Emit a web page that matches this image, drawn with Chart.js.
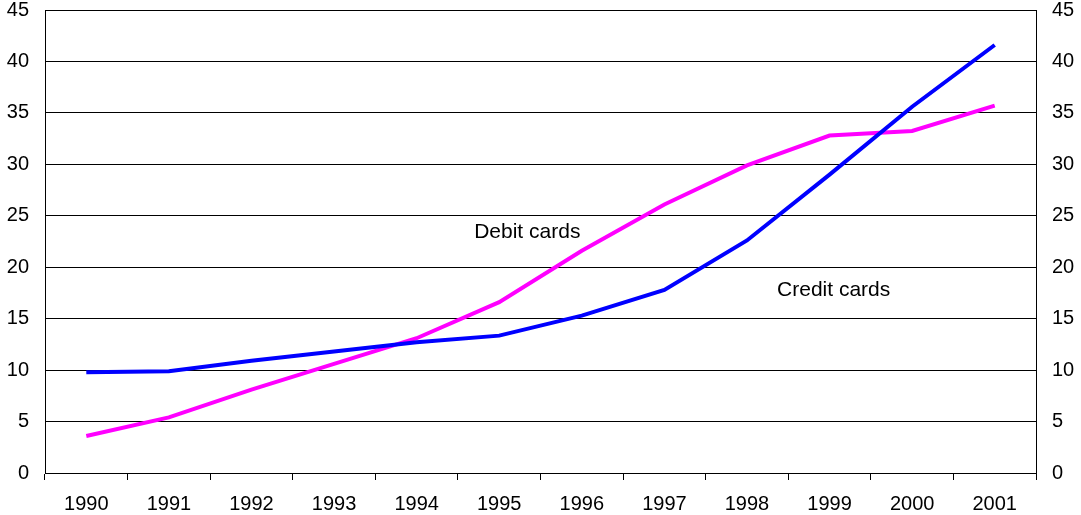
<!DOCTYPE html>
<html>
<head>
<meta charset="utf-8">
<script src="https://cdn.jsdelivr.net/npm/chart.js@4"></script>
<style>
html,body{margin:0;padding:0;background:#fff;}
#wrap{position:relative;width:1081px;height:515px;}
</style>
</head>
<body>
<div id="wrap"><canvas id="c" width="1081" height="515"></canvas></div>
<script>
const years = ['1990','1991','1992','1993','1994','1995','1996','1997','1998','1999','2000','2001'];
const creditCards = [9.8, 9.9, 10.9, 11.8, 12.7, 13.35, 15.3, 17.8, 22.6, 29.0, 35.6, 41.6];
const debitCards  = [3.6, 5.4, 8.1, 10.6, 13.1, 16.6, 21.6, 26.1, 29.9, 32.8, 33.25, 35.7];
const yTicks = [0,5,10,15,20,25,30,35,40,45];
const seriesLabels = [
  {text:'Debit cards', x:5.34, y:23.4},
  {text:'Credit cards', x:9.05, y:17.8}
];

const FONT = "'Liberation Sans', Arial, sans-serif";

const labelPlugin = {
  id:'seriesLabels',
  afterDatasetsDraw(chart){
    const ctx = chart.ctx;
    const xs = chart.scales.x, ys = chart.scales.y;
    ctx.save();
    ctx.font = "21px " + FONT;
    ctx.fillStyle = '#000';
    ctx.textAlign = 'center';
    ctx.textBaseline = 'middle';
    seriesLabels.forEach(l=>{
      const x0 = xs.getPixelForValue(Math.floor(l.x));
      const x1 = xs.getPixelForValue(Math.floor(l.x)+1);
      const px = x0 + (x1-x0)*(l.x-Math.floor(l.x));
      ctx.fillText(l.text, px, ys.getPixelForValue(l.y));
    });
    ctx.restore();
  }
};

function noPad(s){ s.paddingTop = 0; s.paddingBottom = 0; s.paddingLeft = 0; s.paddingRight = 0; }

new Chart(document.getElementById('c'), {
  type:'line',
  data:{
    labels: years,
    datasets:[
      {label:'Credit cards', data: creditCards, borderColor:'#0000FF', borderWidth:4, pointRadius:0, tension:0, fill:false, yAxisID:'y'},
      {label:'Debit cards', data: debitCards, borderColor:'#FF00FF', borderWidth:4, pointRadius:0, tension:0, fill:false, yAxisID:'y'}
    ]
  },
  options:{
    responsive:false,
    animation:false,
    layout:{padding:{top:10,left:0,right:0,bottom:0}},
    plugins:{legend:{display:false}, tooltip:{enabled:false}},
    scales:{
      x:{
        offset:true,
        grid:{offset:true, drawOnChartArea:false, color:'#000', tickLength:7, lineWidth:1},
        border:{color:'#000', width:1},
        ticks:{font:{family:FONT, size:20}, color:'#000', padding:12, maxRotation:0, autoSkip:false},
        afterFit(s){ s.height = 42; noPad(s); }
      },
      y:{
        position:'left',
        min:0, max:45,
        afterBuildTicks(s){ s.ticks = yTicks.map(v=>({value:v})); },
        grid:{color:'#000', lineWidth:1, drawTicks:false},
        border:{color:'#000', width:1},
        ticks:{font:{family:FONT, size:20}, color:'#000', padding:16},
        afterFit(s){ s.width = 45; noPad(s); }
      },
      y2:{
        position:'right',
        min:0, max:45,
        afterBuildTicks(s){ s.ticks = yTicks.map(v=>({value:v})); },
        grid:{drawOnChartArea:false, drawTicks:false},
        border:{color:'#000', width:1},
        ticks:{font:{family:FONT, size:20}, color:'#000', padding:16},
        afterFit(s){ s.width = 45; noPad(s); }
      }
    }
  },
  plugins:[labelPlugin]
});
</script>
</body>
</html>
